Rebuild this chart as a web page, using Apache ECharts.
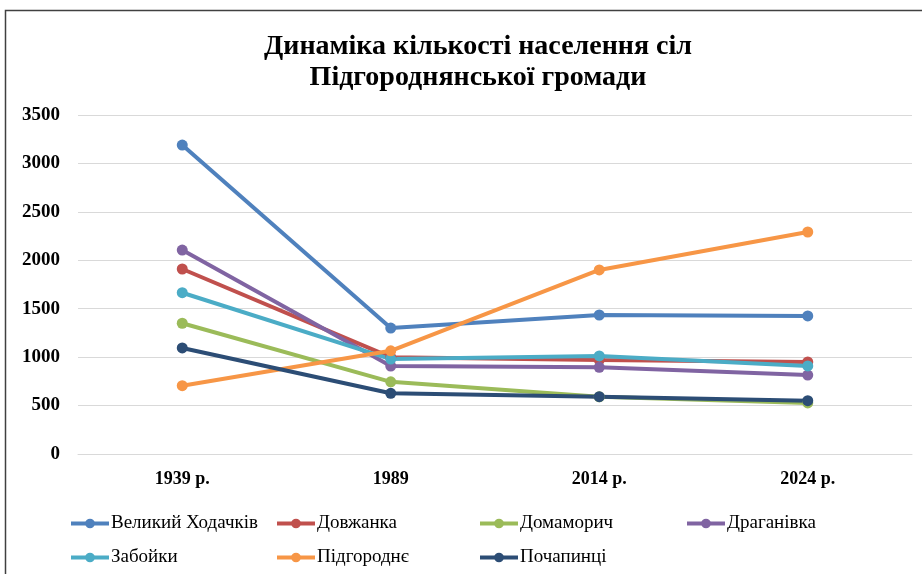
<!DOCTYPE html>
<html>
<head>
<meta charset="utf-8">
<script src="https://cdn.jsdelivr.net/npm/echarts@6/dist/echarts.min.js"></script>
<style>
    html, body { margin: 0; padding: 0; background: #ffffff; }
    #chart { width: 922px; height: 574px; }
</style>
</head>
<body>
<div id="chart"></div>
<script>
const years = ["1939 р.", "1989", "2014 р.", "2024 р."];

const velykyiKhodachkiv = [3190, 1300, 1435, 1425];
const dovzhanka = [1910, 1000, 970, 950];
const domamorych = [1350, 745, 590, 527];
const drahanivka = [2105, 908, 895, 815];
const zaboiky = [1665, 980, 1012, 909];
const pidhorodne = [705, 1065, 1900, 2292];
const pochapyntsi = [1095, 627, 592, 550];

const seriesNames = ["Великий Ходачків", "Довжанка", "Домаморич", "Драганівка", "Забойки", "Підгороднє", "Почапинці"];
const seriesValues = [velykyiKhodachkiv, dovzhanka, domamorych, drahanivka, zaboiky, pidhorodne, pochapyntsi];
const colors = ["#4F81BD", "#C0504D", "#9BBB59", "#8064A2", "#4BACC6", "#F79646", "#2C4D75"];

// legend slots: [left, top]
const legendSlots = [[64, 509], [270, 509], [473, 509], [680, 509], [64, 543], [270, 543], [473, 543]];

const serif = "'Liberation Serif', 'DejaVu Serif', serif";

const chart = echarts.init(document.getElementById("chart"));

chart.setOption({
    backgroundColor: "#ffffff",
    animation: false,
    color: colors,
    title: {
        text: "Динаміка кількості населення сіл\nПідгороднянської громади",
        left: 473,
        textAlign: "center",
        top: 26,
        textStyle: {
            fontFamily: serif,
            fontWeight: "bold",
            fontSize: 28,
            lineHeight: 31,
            color: "#000000",
        },
    },
    graphic: [
        {
            type: "rect",
            shape: { x: 5.5, y: 10.5, width: 1000, height: 700 },
            style: { fill: null, stroke: "#404040", lineWidth: 1.5 },
            silent: true,
        },
    ],
    legend: legendSlots.map((slot, i) => ({
        data: [seriesNames[i]],
        left: slot[0],
        top: slot[1],
        itemWidth: 38,
        itemHeight: 12,
        itemGap: 6,
        lineStyle: { width: 4 },
        textStyle: { fontFamily: serif, fontSize: 19, color: "#000000", padding: [0, 0, 0, -3] },
    })),
    grid: {
        left: 78,
        right: 10,
        top: 115,
        bottom: 120,
        containLabel: false,
    },
    xAxis: {
        type: "category",
        data: years,
        boundaryGap: true,
        axisLine: { show: true, lineStyle: { color: "#D9D9D9", width: 1 } },
        axisTick: { show: false },
        axisLabel: {
            fontFamily: serif,
            fontWeight: "bold",
            fontSize: 18,
            color: "#000000",
            margin: 16,
        },
    },
    yAxis: {
        type: "value",
        min: 0,
        max: 3500,
        interval: 500,
        axisLine: { show: false },
        axisTick: { show: false },
        splitLine: { lineStyle: { color: "#D9D9D9", width: 1 } },
        axisLabel: {
            fontFamily: serif,
            fontWeight: "bold",
            fontSize: 19,
            color: "#000000",
            margin: 18,
            formatter: (v) => String(v),
        },
    },
    series: seriesNames.map((name, i) => ({
        name,
        type: "line",
        data: seriesValues[i],
        symbol: "circle",
        symbolSize: 11,
        lineStyle: { width: 4 },
        itemStyle: { color: colors[i] },
        emphasis: { disabled: true },
    })),
});
</script>
</body>
</html>
